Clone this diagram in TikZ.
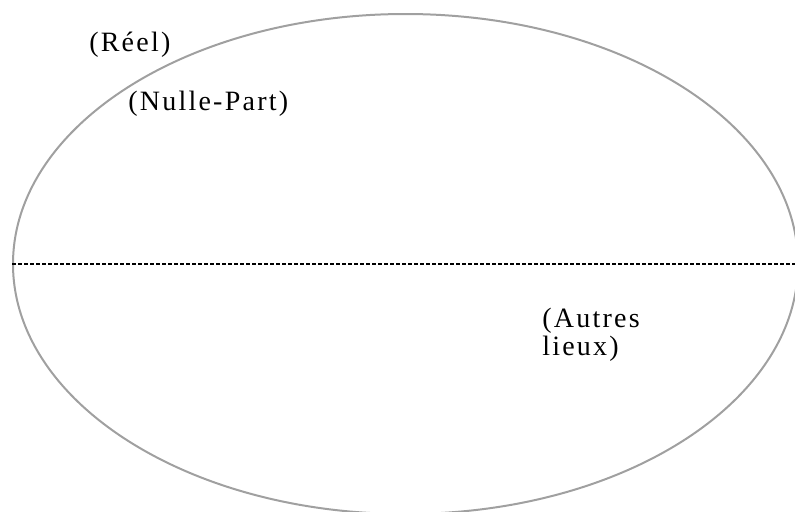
\documentclass[tikz,border=0pt]{standalone}
\usepackage{fontspec}
\setmainfont{Liberation Serif}
\newfontfamily\lblfont[LetterSpace=8]{Liberation Serif}
\usetikzlibrary{shapes.geometric}

\begin{document}
\begin{tikzpicture}[x=0.75pt,y=0.75pt,yscale=-1,xscale=1,
	lbl/.style={anchor=base west,inner sep=0pt,align=left,font=\lblfont\fontsize{21}{21}\selectfont}]
	\useasboundingbox (0,0) rectangle (795,511);
	
	%Shape: Ellipse [id:oval] 
	\node [draw={rgb, 255:red, 160; green, 160; blue, 160 },line width=1.5pt,ellipse,inner sep=0pt,minimum width=588.75pt,minimum height=375pt] (oval) at (405.5,264) {};
	%Straight Lines [id:divide] 
	\draw [line width=1.5pt,dash pattern={on 3pt off 1.5pt}]  (oval.west) -- (oval.east) ;
	
	% Text Node
	\node [lbl] (reel) at (89,51) {(Réel)};
	% Text Node
	\node [lbl] (nulle) at (128,110) {(Nulle-Part)};
	% Text Node (base is the second line)
	\node [lbl] (autres) at (542,355) {(Autres\\lieux)};
	
\end{tikzpicture}
\end{document}
